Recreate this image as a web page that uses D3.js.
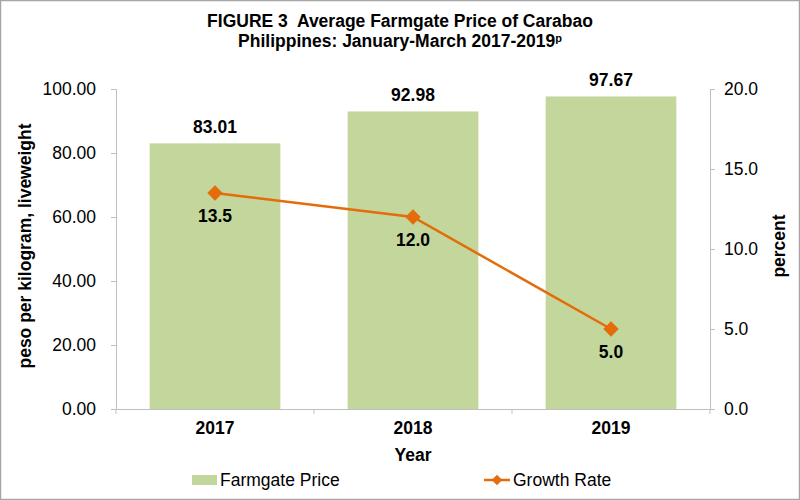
<!DOCTYPE html>
<html><head><meta charset="utf-8">
<script src="https://cdn.jsdelivr.net/npm/d3@7"></script>
<style>body{margin:0;background:#fff}svg{font-family:Arial,"Liberation Sans",sans-serif}</style>
</head><body>
<svg id="c" width="800" height="500"></svg>
<script>
const years = ["2017","2018","2019"];
const prices = [83.01, 92.98, 97.67];
const growth = [13.5, 12.0, 5.0];
const leftTicks = [0,20,40,60,80,100];
const rightTicks = [0,5,10,15,20];

const FS = "17.5px";
const svg = d3.select("#c");
svg.append("rect").attr("x",0.5).attr("y",0.5).attr("width",799).attr("height",499)
  .attr("fill","#fff").attr("stroke","#a6a6a6").attr("stroke-width",1.5);

const L=116, R=710, T=89, B=409;
const x = d3.scaleBand().domain(years).range([L,R]).paddingInner(0).paddingOuter(0);
const yL = d3.scaleLinear().domain([0,100]).range([B,T]);
const yR = d3.scaleLinear().domain([0,20]).range([B,T]);
const bw = x.bandwidth()*0.66;

// bars
svg.selectAll("rect.bar").data(prices).enter().append("rect")
  .attr("x",(d,i)=>x(years[i])+x.bandwidth()/2-bw/2).attr("width",bw)
  .attr("y",d=>yL(d)).attr("height",d=>B-yL(d)).attr("fill","#C3D69B");

// axes
const ax = svg.append("g").attr("transform",`translate(${L},0)`)
  .call(d3.axisLeft(yL).tickValues(leftTicks).tickFormat(d3.format(".2f")).tickSize(5).tickPadding(15));
const ar = svg.append("g").attr("transform",`translate(${R},0)`)
  .call(d3.axisRight(yR).tickValues(rightTicks).tickFormat(d3.format(".1f")).tickSize(5).tickPadding(9));
const ab = svg.append("g").attr("transform",`translate(0,${B})`)
  .call(d3.axisBottom(x).tickSize(0).tickPadding(13));
[ax,ar,ab].forEach(g=>{
  g.selectAll("path.domain").attr("stroke","#bfbfbf");
  g.selectAll("line").attr("stroke","#bfbfbf");
  g.selectAll("text").attr("fill","#000").style("font-size",FS).style("font-family","Arial, 'Liberation Sans', sans-serif");
});
ab.selectAll("text").style("font-weight","bold");
// category boundary ticks
svg.selectAll("line.sep").data(d3.range(years.length+1)).enter().append("line")
  .attr("x1",i=>L+i*x.step()).attr("x2",i=>L+i*x.step()).attr("y1",B).attr("y2",B+5).attr("stroke","#bfbfbf");

// bar labels
svg.selectAll("text.bl").data(prices).enter().append("text")
  .attr("x",(d,i)=>x(years[i])+x.bandwidth()/2).attr("y",d=>yL(d)-10)
  .attr("text-anchor","middle").style("font-weight","bold").style("font-size",FS).text(d=>d.toFixed(2));

// line
const lx = (d,i)=>x(years[i])+x.bandwidth()/2;
const line = d3.line().x((d,i)=>lx(d,i)).y(d=>yR(d));
svg.append("path").datum(growth).attr("d",line).attr("fill","none").attr("stroke","#E46C0A").attr("stroke-width",2.5);
svg.selectAll("path.mk").data(growth).enter().append("path")
  .attr("d",d3.symbol().type(d3.symbolDiamond2).size(150))
  .attr("transform",(d,i)=>`translate(${lx(d,i)},${yR(d)})`).attr("fill","#E46C0A");
svg.selectAll("text.gl").data(growth).enter().append("text")
  .attr("x",(d,i)=>lx(d,i)).attr("y",d=>yR(d)+29)
  .attr("text-anchor","middle").style("font-weight","bold").style("font-size",FS).text(d=>d.toFixed(1));

// titles
const t = svg.append("text").attr("x",400).attr("y",27).attr("text-anchor","middle")
  .style("font-weight","bold").style("font-size",FS).attr("xml:space","preserve");
t.text("FIGURE 3  Average Farmgate Price of Carabao");
const t2 = svg.append("text").attr("x",400).attr("y",47).attr("text-anchor","middle")
  .style("font-weight","bold").style("font-size",FS);
t2.append("tspan").text("Philippines: January-March 2017-2019");
t2.append("tspan").attr("dy",-5).style("font-size","11px").text("p");

svg.append("text").attr("transform","translate(31,246) rotate(-90)").attr("text-anchor","middle")
  .style("font-weight","bold").style("font-size",FS).text("peso per kilogram, liveweight");
svg.append("text").attr("transform","translate(785,246) rotate(-90)").attr("text-anchor","middle")
  .style("font-weight","bold").style("font-size",FS).text("percent");
svg.append("text").attr("x",413).attr("y",461).attr("text-anchor","middle")
  .style("font-weight","bold").style("font-size",FS).text("Year");

// legend
svg.append("rect").attr("x",192).attr("y",475).attr("width",25).attr("height",10).attr("fill","#C3D69B");
svg.append("text").attr("x",220).attr("y",486).style("font-size",FS).text("Farmgate Price");
svg.append("line").attr("x1",484).attr("x2",510).attr("y1",480).attr("y2",480).attr("stroke","#E46C0A").attr("stroke-width",2.5);
svg.append("path").attr("d",d3.symbol().type(d3.symbolDiamond2).size(70)).attr("transform","translate(497,480)").attr("fill","#E46C0A");
svg.append("text").attr("x",513).attr("y",486).style("font-size",FS).text("Growth Rate");
</script>
</body></html>
